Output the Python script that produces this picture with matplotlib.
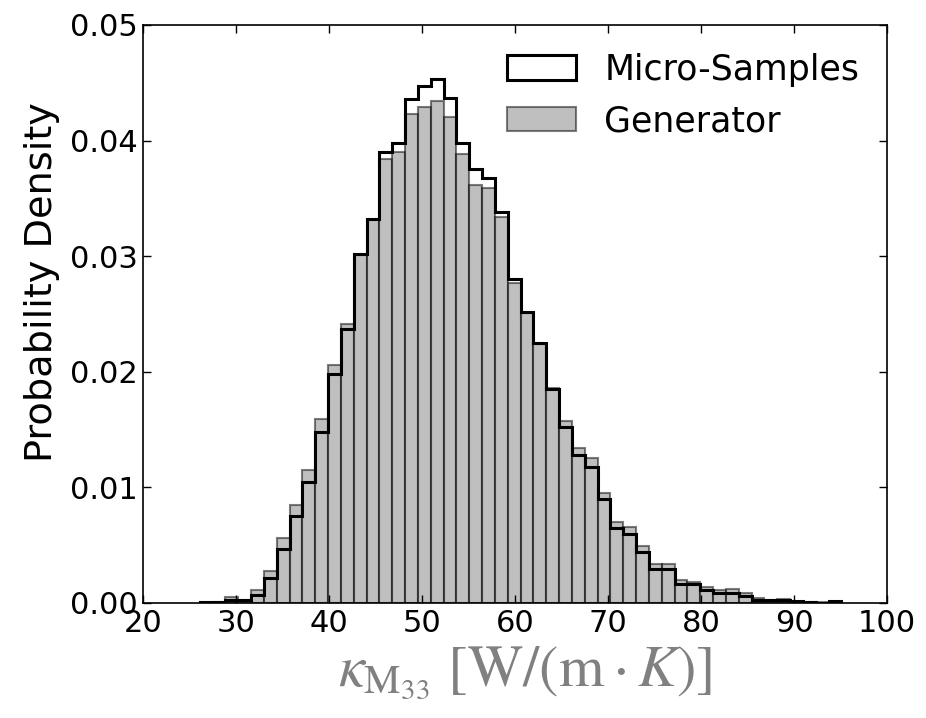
import numpy as np
import matplotlib
matplotlib.use("Agg")
import matplotlib.pyplot as plt

# ---- data ----
bin_start = 26.1
bin_stop = 95.1
n_bins = 50

micro_density = [
    0.0001, 0.0001, 0.0003, 0.0003, 0.0007, 0.0022, 0.0047, 0.0075, 0.0105, 0.0148,
    0.0198, 0.0237, 0.0302, 0.0332, 0.0390, 0.0398, 0.0436, 0.0447, 0.0453, 0.0437,
    0.0398, 0.0375, 0.0368, 0.0338, 0.0280, 0.0252, 0.0225, 0.0185, 0.0152, 0.0128,
    0.0118, 0.0090, 0.0065, 0.0060, 0.0044, 0.0029, 0.0029, 0.0016, 0.0016, 0.0011,
    0.0009, 0.0009, 0.0006, 0.0003, 0.0003, 0.0003, 0.00015, 0.00005, 0.00003, 0.0002,
]

generator_density = [
    0.0, 0.00005, 0.0005, 0.0003, 0.0011, 0.0028, 0.0056, 0.0085, 0.0115, 0.0159,
    0.0206, 0.0241, 0.0301, 0.0331, 0.0384, 0.0390, 0.0423, 0.0429, 0.0434, 0.0420,
    0.0388, 0.0362, 0.0359, 0.0334, 0.0277, 0.0251, 0.0224, 0.0186, 0.0157, 0.0134,
    0.0125, 0.0095, 0.0070, 0.0066, 0.0049, 0.0034, 0.0034, 0.0020, 0.0018, 0.0014,
    0.0011, 0.0012, 0.0009, 0.0004, 0.0003, 0.00035, 0.0001, 0.00005, 0.00005, 0.0,
]

labels = ["Micro-Samples", "Generator"]
x_ticks = [20, 30, 40, 50, 60, 70, 80, 90, 100]
y_ticks = [0.00, 0.01, 0.02, 0.03, 0.04, 0.05]

edges = np.linspace(bin_start, bin_stop, n_bins + 1)
centers = 0.5 * (edges[:-1] + edges[1:])

plt.rcParams["mathtext.fontset"] = "stix"

fig = plt.figure(figsize=(9.26, 7.18), dpi=100)
ax = fig.add_axes([0.1544, 0.1602, 0.8035, 0.805])

ax.hist(centers, bins=edges, weights=micro_density, histtype="step",
        color="black", linewidth=2.2, label=labels[0])
ax.hist(centers, bins=edges, weights=generator_density, histtype="bar",
        facecolor="gray", edgecolor="black", linewidth=1.5, alpha=0.5,
        label=labels[1])

ax.set_xlim(20, 100)
ax.set_ylim(0, 0.05)
ax.set_xticks(x_ticks)
ax.set_yticks(y_ticks)
ax.set_yticklabels([f"{v:.2f}" for v in y_ticks])
ax.tick_params(direction="in", top=True, right=True, length=6, width=1,
               labelsize=22, pad=4)
for s in ax.spines.values():
    s.set_linewidth(1.2)

ax.set_ylabel("Probability Density", fontsize=27.5)
ax.yaxis.set_label_coords(-0.112, 0.555)

fig.text(0.567, 0.063,
         r"$\kappa_{\mathrm{M}_{33}}\ [\mathrm{W}/(\mathrm{m}\cdot K)]$",
         fontsize=42, color="#808080", ha="center", va="center")

ax.legend(loc="upper right", frameon=False, fontsize=25, handlelength=2.0,
          handleheight=0.72, borderaxespad=0.4, labelspacing=0.5, handletextpad=0.8)

fig.savefig("out.png", dpi=100, facecolor="white")
